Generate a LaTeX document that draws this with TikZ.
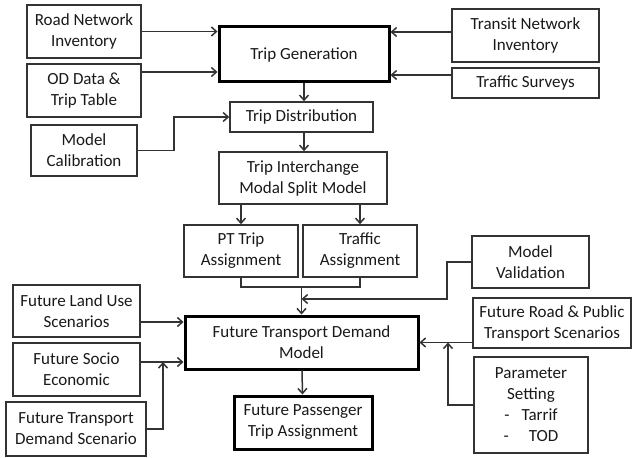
\documentclass[tikz,border=0pt]{standalone}
\usepackage{fontspec}
\setmainfont{Carlito}
\usetikzlibrary{arrows.meta,calc}
\begin{document}
\begin{tikzpicture}[
   x=1pt,y=-1pt,
   font=\fontsize{17}{21}\selectfont,
   box/.style={draw=black!80,line width=1.6pt,align=center,inner sep=0pt,text=black!90},
   bigbox/.style={box,draw=black,line width=3pt},
   flow/.style={-{Straight Barb[length=5pt,width=9pt]},line width=1.5pt,draw=black!80},
   link/.style={line width=1.5pt,draw=black!80}]
\useasboundingbox (0,0) rectangle (636,457);
% inputs to trip generation
\node[box,minimum width=114,minimum height=53] (road) at (84,31.5) {Road Network\\Inventory};
\node[box,minimum width=114,minimum height=53] (od) at (84,90.5) {OD Data \&\\Trip Table};
\node[box,minimum width=106,minimum height=51] (calib) at (84,150.5) {Model\\Calibration};
\node[box,minimum width=147,minimum height=53] (transit) at (525.5,35.5) {Transit Network\\Inventory};
\node[box,minimum width=147,minimum height=30] (surveys) at (525.5,83) {Traffic Surveys};
% four step chain
\node[bigbox,minimum width=170,minimum height=55] (tripgen) at (304,54.5) {Trip Generation};
\node[box,minimum width=143,minimum height=30] (tripdist) at (301.5,117) {Trip Distribution};
\node[box,minimum width=168,minimum height=52] (modal) at (303,178) {Trip Interchange\\Modal Split Model};
\node[box,minimum width=114,minimum height=52] (pt) at (241,251) {PT Trip\\Assignment};
\node[box,minimum width=114,minimum height=52] (traffic) at (360,251) {Traffic\\Assignment};
\node[box,minimum width=117,minimum height=52] (valid) at (530.5,262) {Model\\Validation};
% future scenarios
\node[bigbox,minimum width=233,minimum height=53] (ftdm) at (301.5,342.5) {Future Transport Demand\\Model};
\node[bigbox,minimum width=138,minimum height=53] (fpta) at (303,422.5) {Future Passenger\\Trip Assignment};
\node[box,minimum width=127,minimum height=52] (landuse) at (76.5,311) {Future Land Use\\Scenarios};
\node[box,minimum width=127,minimum height=53] (socio) at (76.5,369.5) {Future Socio\\Economic};
\node[box,minimum width=140,minimum height=54] (scenario) at (76,429) {Future Transport\\Demand Scenario};
\node[box,minimum width=158,minimum height=50] (roadpt) at (552,323) {Future Road \& Public\\Transport Scenarios};
\node[box,minimum width=114,minimum height=96] (param) at (531,405) {Parameter\\Setting\\-\hspace{12pt}Tarrif\\-\hspace{20pt}TOD};
\coordinate (join) at (301.5,287);
\coordinate (tap) at (301.5,299);
\coordinate (in2) at (163,362);
\coordinate (in3) at (448,342.5);
% connectors
\draw[flow] (road) -- (road -| tripgen.west);
\draw[flow] ([yshift=18.5pt]od.east) -- ([yshift=18.5pt]od.east -| tripgen.west);
\draw[flow] ([yshift=3.5pt]transit.west) -- ([yshift=3.5pt]transit.west -| tripgen.east);
\draw[flow] ([yshift=8pt]surveys.west) -- ([yshift=8pt]surveys.west -| tripgen.east);
\draw[flow] (tripgen) -- (tripgen |- tripdist.north);
\draw[flow] (calib.east) -- ++(36,0) |- (tripdist.west);
\draw[flow] (tripdist.south -| tripgen) -- (modal.north -| tripgen);
\draw[flow] (modal.south -| pt) -- (pt);
\draw[flow] (modal.south -| traffic) -- (traffic);
\draw[link] (pt.south) -- (pt.south |- join) -| (traffic.south);
\draw[flow] (join) -- (ftdm);
\draw[flow] (valid.west) -- ++(-24,0) |- (tap);
\draw[flow] ([yshift=-11pt]landuse.east) -- ([yshift=-11pt]landuse.east -| ftdm.west);
\draw[flow] ([yshift=7.5pt]socio.east) -- ([yshift=7.5pt]socio.east -| ftdm.west);
\draw[flow] (scenario.east) -| (in2);
\draw[flow] (roadpt.west |- ftdm.east) -- (ftdm.east);
\draw[flow] (param.west) -| (in3);
\draw[flow] (ftdm) -- (fpta);
\end{tikzpicture}
\end{document}
